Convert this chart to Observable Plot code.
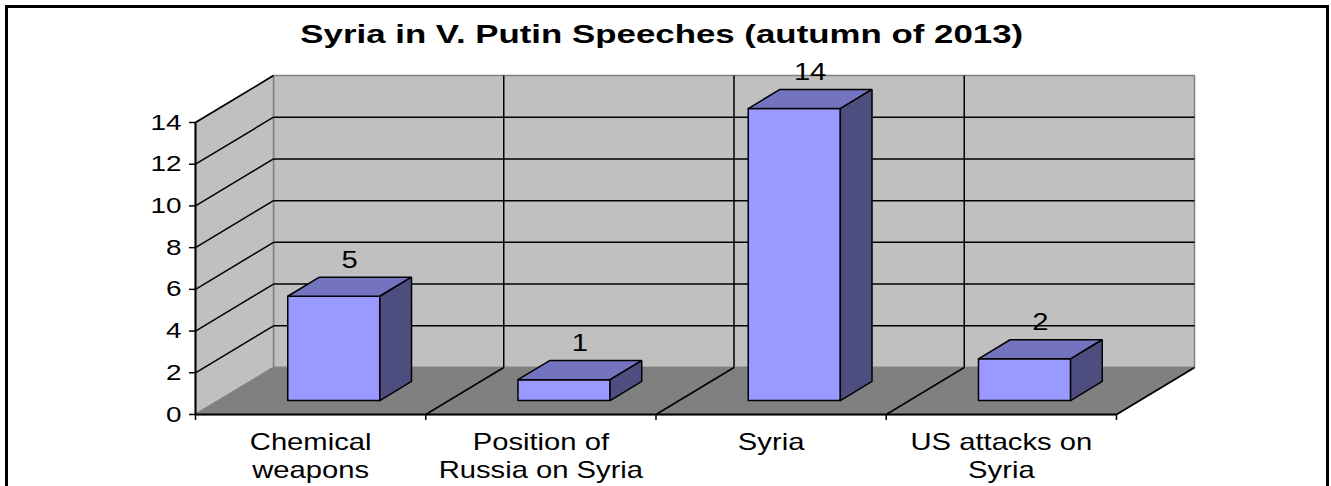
<!DOCTYPE html>
<html>
<head>
<meta charset="utf-8">
<script src="https://cdn.jsdelivr.net/npm/d3@7"></script>
<script src="https://cdn.jsdelivr.net/npm/@observablehq/plot@0.6"></script>
<style>
  html, body { margin: 0; padding: 0; background: #fff; }
  #wrap { position: relative; width: 1331px; height: 486px; overflow: hidden; background: #fff;
          font-family: "Liberation Sans", Arial, sans-serif; }
  #title { position: absolute; left: 0; top: 21px; width: 1324px; text-align: center;
           font-size: 26px; line-height: 26px; font-weight: bold; color: #000; }
  #title span { display: inline-block; transform: scaleX(1.34); }
  #chart { position: absolute; left: 0; top: 55px; }
  #border { position: absolute; left: 5px; top: 5px; width: 1324px; height: 600px;
            box-sizing: border-box; border: 3px solid #000; pointer-events: none; }
</style>
</head>
<body>
<div id="wrap">
  <div id="title"><span>Syria in V. Putin Speeches (autumn of 2013)</span></div>
  <div id="chart"></div>
  <div id="border"></div>
</div>
<script>
// ---- data ----
const categories = ["Chemical\nweapons", "Position of\nRussia on Syria", "Syria", "US attacks on\nSyria"];
const values = [5, 1, 14, 2];
const yTicks = [0, 2, 4, 6, 8, 10, 12, 14];
const yMax = 14;

// ---- oblique 3D projection into data space ----
const DX = 0.3388;   // depth offset in category units
const DY = 2.2535;   // depth offset in value units
const P = (c, v, z) => ({x: c + DX * z, y: v + DY * z});
const poly = (id, pts) => [...pts, pts[0]].map(p => ({id, ...p}));
const nCat = categories.length;

const backWall = poly("back", [P(0, 0, 1), P(nCat, 0, 1), P(nCat, yMax, 1), P(0, yMax, 1)]);
const sideWall = poly("side", [P(0, 0, 0), P(0, 0, 1), P(0, yMax, 1), P(0, yMax, 0)]);
const floor = poly("floor", [P(0, 0, 0), P(nCat, 0, 0), P(nCat, 0, 1), P(0, 0, 1)]);

const seg = (a, b) => ({x1: a.x, y1: a.y, x2: b.x, y2: b.y});
const backH = yTicks.filter(v => v > 0 && v < yMax).map(v => seg(P(0, v, 1), P(nCat, v, 1)));
const sideD = yTicks.filter(v => v > 0).map(v => seg(P(0, v, 0), P(0, v, 1)));
const backV = d3.range(1, nCat).map(c => seg(P(c, 0, 1), P(c, yMax, 1)));
const floorD = d3.range(1, nCat + 1).map(c => seg(P(c, 0, 0), P(c, 0, 1)));

const W = 0.4, Z0 = 0.297, Z1 = 0.703;
const fronts = [], tops = [], sides = [];
values.forEach((v, i) => {
  const c0 = i + 0.5 - W / 2, c1 = i + 0.5 + W / 2;
  fronts.push(...poly("f" + i, [P(c0, 0, Z0), P(c1, 0, Z0), P(c1, v, Z0), P(c0, v, Z0)]));
  tops.push(...poly("t" + i, [P(c0, v, Z0), P(c1, v, Z0), P(c1, v, Z1), P(c0, v, Z1)]));
  sides.push(...poly("s" + i, [P(c1, 0, Z0), P(c1, 0, Z1), P(c1, v, Z1), P(c1, v, Z0)]));
});
const labels = values.map((v, i) => ({...P(i + 0.5, v, 0.5), t: String(v)}));

const shape = (data, fill, stroke) =>
  Plot.line(data, {x: "x", y: "y", z: "id", fill, stroke, strokeWidth: 1.5, strokeLinejoin: "miter"});

const chart = Plot.plot({
  width: 1331,
  height: 431,
  marginLeft: 195,
  marginRight: 137,
  marginTop: 20,
  marginBottom: 72,
  x: {domain: [0, nCat + DX]},
  y: {domain: [0, yMax + DY]},
  style: {fontFamily: "'Liberation Sans', Arial, sans-serif", background: "transparent", color: "#000", overflow: "visible"},
  marks: [
    shape(backWall, "#c0c0c0", "#808080"),
    shape(sideWall, "#c0c0c0", "#808080"),
    shape(floor, "#808080", "#808080"),
    Plot.link(backH, {x1: "x1", y1: "y1", x2: "x2", y2: "y2", stroke: "#000", strokeWidth: 1.5}),
    Plot.link(sideD, {x1: "x1", y1: "y1", x2: "x2", y2: "y2", stroke: "#000", strokeWidth: 1.5}),
    Plot.link(backV, {x1: "x1", y1: "y1", x2: "x2", y2: "y2", stroke: "#000", strokeWidth: 1.5}),
    Plot.link(floorD, {x1: "x1", y1: "y1", x2: "x2", y2: "y2", stroke: "#000", strokeWidth: 1.5}),
    Plot.ruleY([0], {x1: 0, x2: nCat, stroke: "#000", strokeWidth: 2}),
    Plot.ruleX([0], {y1: 0, y2: yMax, stroke: "#000", strokeWidth: 2}),
    shape(fronts, "#9999ff", "#000"),
    shape(tops, "#7373bf", "#000"),
    shape(sides, "#4d4d80", "#000"),
    Plot.text(labels, {x: "x", y: "y", text: "t", dy: -19, fontSize: 23, fill: "#000", lineAnchor: "bottom"}),
    Plot.axisY({ticks: yTicks, tickSize: 6, tickPadding: 8, fontSize: 22, tickFormat: d3.format("d"), strokeWidth: 1.5}),
    Plot.axisX({ticks: d3.range(0, nCat + 1), tickSize: 6, tickFormat: () => "", strokeWidth: 1.5}),
    Plot.axisX({ticks: d3.range(nCat).map(i => i + 0.5), tickSize: 0, tickPadding: 16, fontSize: 23,
                lineHeight: 1.22, lineAnchor: "top", tickFormat: d => categories[Math.floor(d)]})
  ]
});
document.getElementById("chart").appendChild(chart);

// horizontally widen the text to match the reference's stretched lettering
chart.querySelectorAll("text").forEach(t => {
  const xa = t.getAttribute("x");
  const x = xa !== null && isFinite(+xa) ? +xa : 0;
  if (xa !== null && isFinite(+xa)) t.removeAttribute("x");
  const tr = t.getAttribute("transform") || "";
  t.setAttribute("transform", `${tr} translate(${x},0) scale(1.27,1)`);
});
</script>
</body>
</html>
